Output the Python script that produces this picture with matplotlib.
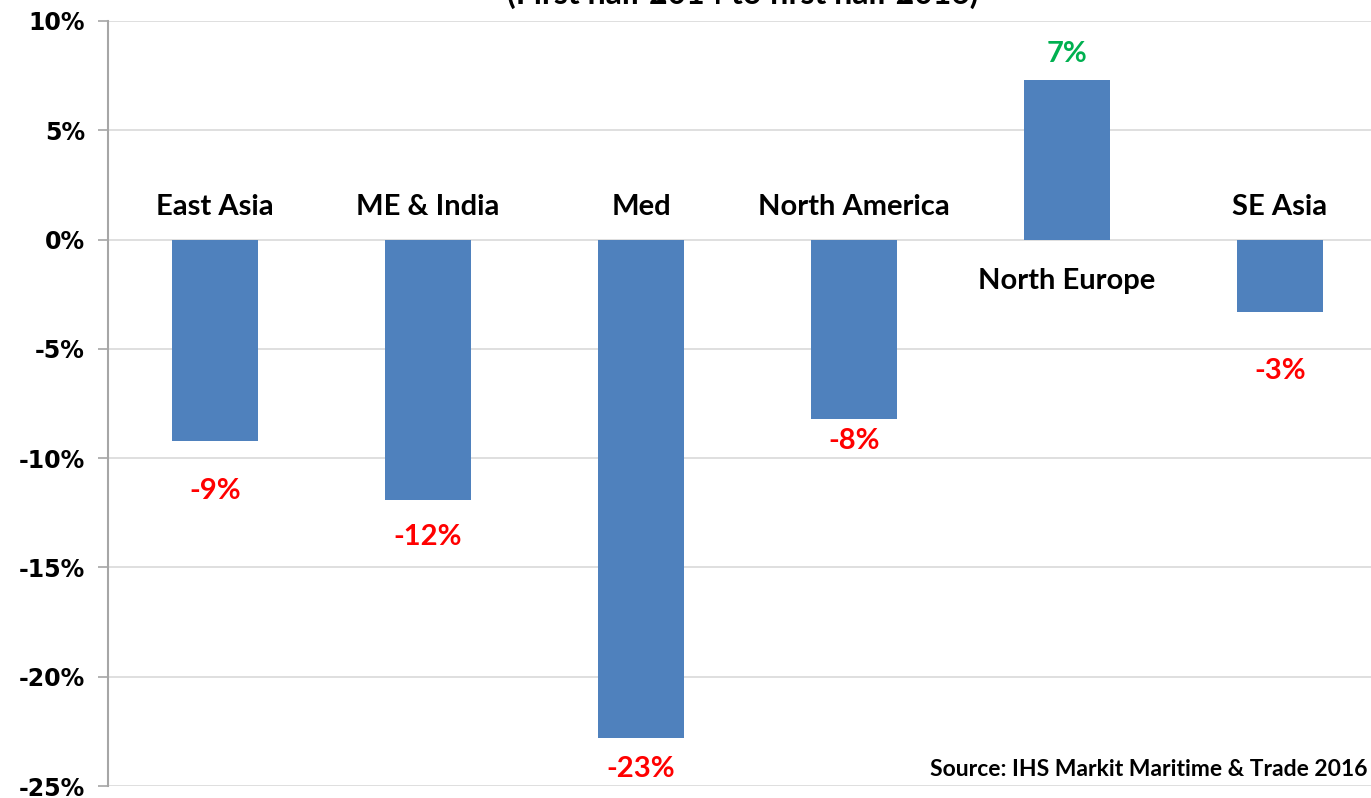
import matplotlib.pyplot as plt
import numpy as np

regions = ["East Asia", "ME & India", "Med", "North America", "North Europe", "SE Asia"]
change_pct = [-9.2, -11.9, -22.8, -8.2, 7.3, -3.3]
value_labels = ["-9%", "-12%", "-23%", "-8%", "7%", "-3%"]
yticks = [10, 5, 0, -5, -10, -15, -20, -25]

# label placement (data units), tuned to the reference
name_y = [1.5, 1.5, 1.5, 1.5, -1.9, 1.5]
value_y = [-11.5, -13.6, -24.2, -9.2, 8.5, -6.0]

BAR = "#4F81BD"
W, H = 1371, 798

fig = plt.figure(figsize=(W / 100, H / 100), dpi=100)
ax = fig.add_axes([108.5 / W, 12 / H, 1278 / W, 765 / H])

x = np.arange(len(regions))
ax.bar(x, change_pct, width=0.4, color=BAR, zorder=2)

ax.set_xlim(-0.5, len(regions) - 0.5)
ax.set_ylim(-25, 10)
ax.set_yticks(yticks)
ax.set_yticklabels([f"{t}%" for t in yticks], fontsize=17, fontweight="bold",
                   family="DejaVu Sans")
ax.set_xticks([])
ax.yaxis.grid(True, color="#D9D9D9", linewidth=1.2, zorder=0)
ax.set_axisbelow(True)
ax.tick_params(axis="y", length=7, width=1.2, color="#A6A6A6", pad=10)
for s in ["top", "right", "bottom"]:
    ax.spines[s].set_visible(False)
ax.spines["left"].set_color("#A6A6A6")
ax.spines["left"].set_linewidth(1.5)

for xi, name, ny, val, vy, lab in zip(x, regions, name_y, change_pct, value_y, value_labels):
    ax.text(xi, ny, name, ha="center", va="center", fontsize=21,
            fontweight="bold", family="Lato", color="black")
    ax.text(xi, vy, lab, ha="center", va="center", fontsize=21,
            fontweight="bold", family="Lato",
            color="#00B050" if val > 0 else "#FF0000")

fig.text(743 / W, 1 + 6 / H, "(First half 2014 to first half 2016)",
         ha="center", va="center", fontsize=23, fontweight="bold", family="Lato")
fig.text(930 / W, 1 - 770 / H, "Source: IHS Markit Maritime & Trade 2016",
         ha="left", va="center", fontsize=16.5, fontweight="bold", family="Lato")

fig.savefig("out.png", dpi=100)
